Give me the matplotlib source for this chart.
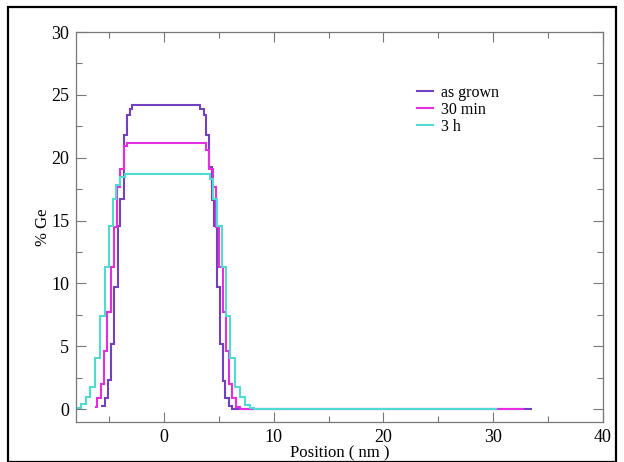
import matplotlib
matplotlib.use("Agg")
import matplotlib.pyplot as plt
from matplotlib.ticker import MultipleLocator
from matplotlib.patches import Rectangle

plt.rcParams['font.family'] = ['Liberation Serif', 'DejaVu Serif']

# step profiles: bin edges (nm) and % Ge in each bin
grown_edges = [-5.7, -5.35, -5.1, -4.8, -4.5, -4.2, -3.95, -3.6, -3.33, -3.1, -2.87,
               3.27, 3.64, 3.88, 4.09, 4.35, 4.6, 4.85, 5.1, 5.35, 5.6, 5.9, 6.2, 33.5]
grown_ge = [0.25, 0.9, 2.3, 5.2, 9.7, 14.6, 16.7, 21.8, 23.4, 23.9, 24.2,
            23.9, 23.4, 21.8, 19.3, 16.6, 14.6, 9.7, 5.2, 2.2, 0.9, 0.25, 0.0]

min30_edges = [-6.3, -6.05, -5.75, -5.45, -5.15, -4.85, -4.55, -4.25, -3.95, -3.65, -3.35,
               3.85, 4.15, 4.45, 4.75, 5.05, 5.35, 5.65, 5.95, 6.25, 6.6, 6.95, 32.8]
min30_ge = [0.15, 0.9, 2.0, 4.6, 7.7, 11.3, 14.5, 17.7, 19.1, 20.9, 21.2,
            20.6, 19.1, 17.7, 14.5, 11.3, 7.7, 4.6, 2.0, 0.9, 0.15, 0.0]

h3_edges = [-8.2, -7.5, -7.1, -6.7, -6.3, -5.8, -5.4, -5.0, -4.66, -4.36, -4.0, -3.56,
            4.25, 4.45, 4.8, 5.3, 5.7, 6.06, 6.46, 6.9, 7.43, 7.88, 8.25, 30.3]
h3_ge = [0.1, 0.4, 1.0, 1.8, 4.1, 7.4, 11.3, 14.6, 16.7, 17.8, 18.5, 18.7,
         18.3, 16.7, 14.6, 11.3, 7.4, 4.1, 1.8, 1.0, 0.3, 0.1, 0.0]

labels = ['as grown', '30 min', '3 h']
colors = ['#7440c2', '#e42ee0', '#4fdad2']

fig = plt.figure(figsize=(6.24, 4.62), dpi=100)
ax = fig.add_axes([76/624, 1 - 421.7/462, (603 - 76)/624, (421.7 - 32)/462])

for edges, vals, lab, col in zip([grown_edges, min30_edges, h3_edges],
                                 [grown_ge, min30_ge, h3_ge], labels, colors):
    ax.stairs(vals, edges, baseline=None, color=col, lw=1.5, label=lab)

ax.set_xlim(-8, 40)
ax.set_ylim(-1, 30)
ax.xaxis.set_major_locator(MultipleLocator(10))
ax.xaxis.set_minor_locator(MultipleLocator(5))
ax.yaxis.set_major_locator(MultipleLocator(5))
ax.yaxis.set_minor_locator(MultipleLocator(2.5))
ax.tick_params(which='both', direction='in', top=True, right=True, color='#777777',
               labelsize=13, pad=5)
ax.tick_params(which='major', length=7, width=0.8)
ax.tick_params(which='minor', length=4, width=0.8)
for s in ax.spines.values():
    s.set_color('#777777')
    s.set_linewidth(0.9)

ax.set_xlabel('Position ( nm )', fontsize=12, labelpad=0)
ax.set_ylabel('% Ge', fontsize=12, labelpad=0)

ax.legend(loc='upper left', bbox_to_anchor=(409/624, 1 - 77/462),
          bbox_transform=fig.transFigure, frameon=False, fontsize=11.5,
          handlelength=1.0, handletextpad=0.5, labelspacing=0.05, borderpad=0)

fig.patches.append(Rectangle((8/624, 0.5/462), 608/624, 455/462,
                             transform=fig.transFigure, fill=False,
                             edgecolor='black', lw=1.6))

fig.savefig('out.png', dpi=100)
